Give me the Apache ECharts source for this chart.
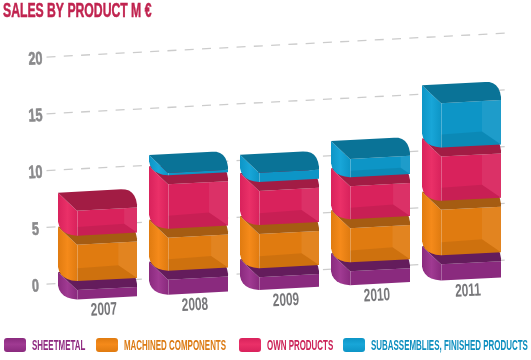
<!DOCTYPE html>
<html><head><meta charset="utf-8">
<style>html,body{margin:0;padding:0;background:#fff}#c{width:531px;height:360px}</style>
<script src="https://cdn.jsdelivr.net/npm/echarts@6/dist/echarts.min.js"></script>
</head><body><div id="c"></div>
<script>
const years = ['2007','2008','2009','2010','2011'];
const yTicks = [0,5,10,15,20];
const sheetmetal = [1.0,1.5,1.3,1.4,1.6];
const machined = [4.0,3.7,3.8,3.8,4.8];
const own = [3.0,4.7,3.8,3.7,4.7];
const subassemblies = [0,1.0,1.6,2.4,4.7];
const seriesNames = ['SHEETMETAL','MACHINED COMPONENTS','OWN PRODUCTS','SUBASSEMBLIES, FINISHED PRODUCTS'];
const seriesValues = [sheetmetal,machined,own,subassemblies];
const palettes = [
 {front:'#8a2a7e',light:'#a03a92',top:'#641c5c',text:'#8f2a80'},
 {front:'#e07b10',light:'#f58a1a',top:'#a55c12',text:'#dc7a12'},
 {front:'#d9225c',light:'#ea3068',top:'#a21c44',text:'#cc2257'},
 {front:'#0d95c6',light:'#18a6d8',top:'#0a7397',text:'#0d8fbf'}
];
const legendSwatchX = [4,96,239,343];
const TILT = 0.052, X0 = 47, LEFT = 39.5, DEPTH = 19, W = 60;
const font = '"Liberation Sans",sans-serif';

function bez(p0,c,p1,n){const r=[];for(let i=1;i<=n;i++){const t=i/n,u=1-t;r.push([u*u*p0[0]+2*u*t*c[0]+t*t*p1[0],u*u*p0[1]+2*u*t*c[1]+t*t*p1[1]]);}return r;}

function tilted(api,i,v,dx){
  const p = api.coord([i,v]);
  const x = p[0]+dx;
  return [x, p[1]-TILT*(x-X0)];
}

function boxRender(sIdx){
  const pal = palettes[sIdx];
  return function(params,api){
    const i = api.value(0), v0 = api.value(1), v1 = api.value(2);
    if(v1<=v0) return {type:'group',children:[]};
    const shift = sIdx===0 ? 7 : 0;
    const T = dx=>tilted(api,i,v1,dx), B = dx=>tilted(api,i,v0,dx);
    const xb = -LEFT, xf = xb+DEPTH, xr = xf+W;
    const bl = T(xb), fl = T(xf), fr = T(xr);
    fl[1]+=DEPTH; fr[1]+=DEPTH;
    const brStart = T(xb+63);
    const brEnd = [fr[0],fr[1]-3];
    const ctrl = [fr[0]-2,brStart[1]-1];
    const topPoly = [bl,brStart,...bez(brStart,ctrl,brEnd,6),fr,fl];
    const bf = B(xf), br = B(xr), bb = B(xb);
    bf[1]+=10+shift; br[1]+=10+shift; bb[1]+=-5+shift;
    const leftPoly=[bl,fl,bf,...bez(bf,[bb[0]+2,bb[1]+13],bb,6)];
    const h = bf[1]-fl[1];
    const fd = Math.min(13,h*0.35);
    const wx = DEPTH*Math.min(1,fd/13);
    const floorPoly=[bf,[bf[0],bf[1]-fd],[br[0]-wx,br[1]-fd],br];
    const wallPoly=[[fr[0]-wx,fr[1]],fr,br,[br[0]-wx,br[1]-fd]];
    const strip=[fl,[fl[0]+1,fl[1]],[bf[0]+1,bf[1]],bf];
    const shape=(pts,fill,op)=>({type:'polygon',shape:{points:pts},style:{fill:fill,opacity:op==null?1:op}});
    const kids=[
      shape(leftPoly,{type:'linear',x:0,y:0,x2:1,y2:0,colorStops:[{offset:0,color:pal.front},{offset:.5,color:pal.light},{offset:1,color:pal.front}]}),
      shape([fl,fr,br,bf],pal.front)
    ];
    if(h>=18) kids.push(shape(wallPoly,'#ffffff',.07),shape(floorPoly,'#000000',.08));
    kids.push(shape(topPoly,pal.top),shape(strip,'#ffffff',.28));
    return {type:'group',children:kids};
  };
}

const stacks = seriesValues.map((vals,s)=>vals.map((v,i)=>{
  let base=0; for(let k=0;k<s;k++) base+=seriesValues[k][i];
  return [i,base,base+v];
}));

const boxSeries = seriesNames.map((name,s)=>({
  name:name,type:'custom',coordinateSystem:'cartesian2d',clip:false,z:3+s,
  encode:{x:0,y:[1,2]},
  renderItem:boxRender(s),
  data:stacks[s]
}));

const gridSeries = {
  type:'custom',coordinateSystem:'cartesian2d',clip:false,z:1,silent:true,
  encode:{x:0,y:1},
  renderItem:(params,api)=>{
    const v=api.value(1);
    const a=tilted(api,0,v,-51), b=tilted(api,4,v,47);
    const lbl=api.coord([0,v]);
    return {type:'group',children:[
      {type:'line',shape:{x1:a[0],y1:a[1],x2:b[0],y2:b[1]},style:{stroke:'#cccccc',lineWidth:1.3,lineDash:[9,8.3]}},
      {type:'text',x:35.5,y:lbl[1]+2.5,rotation:TILT,scaleX:.7,
       style:{text:String(v),fontFamily:font,fontWeight:'bold',fontSize:18,fill:'#8a8a8c',stroke:'#8a8a8c',lineWidth:.6,align:'center',verticalAlign:'middle'}}
    ]};
  },
  data:yTicks.map(v=>[0,v])
};

const yearSeries = {
  type:'custom',coordinateSystem:'cartesian2d',clip:false,z:8,silent:true,
  encode:{x:0,y:1},
  renderItem:(params,api)=>{
    const i=api.value(0);
    const p=tilted(api,i,0,6.5);
    return {type:'text',x:p[0],y:p[1]+29,rotation:TILT,scaleX:.66,
      style:{text:years[i],fontFamily:font,fontWeight:'bold',fontSize:18,fill:'#77777a',align:'center',verticalAlign:'middle'}};
  },
  data:years.map((y,i)=>[i,0])
};

const legendGraphics = [];
seriesNames.forEach((n,s)=>{
  const x=legendSwatchX[s];
  legendGraphics.push({type:'rect',x:x,y:338,shape:{width:22,height:14,r:3},
    style:{fill:{type:'linear',x:0,y:0,x2:0,y2:1,colorStops:[{offset:0,color:palettes[s].front},{offset:.45,color:palettes[s].light},{offset:1,color:palettes[s].front}]}}});
  legendGraphics.push({type:'text',x:x+28,y:345.5,scaleX:.53,
    style:{text:n,fontFamily:font,fontWeight:'bold',fontSize:15,fill:palettes[s].text,align:'left',verticalAlign:'middle'}});
});

const chart = echarts.init(document.getElementById('c'),null,{renderer:'canvas'});
chart.setOption({
  animation:false,backgroundColor:'#fff',
  grid:{left:52,right:24,top:57,bottom:76},
  xAxis:{type:'category',data:years,axisLine:{show:false},axisTick:{show:false},axisLabel:{show:false},splitLine:{show:false}},
  yAxis:{type:'value',min:0,max:20,interval:5,axisLine:{show:false},axisTick:{show:false},splitLine:{show:false},axisLabel:{show:false}},
  graphic:[
    {type:'text',x:3,y:11.5,scaleX:.61,style:{text:'SALES BY PRODUCT M €',fontFamily:font,fontWeight:'bold',fontSize:20,fill:'#c0234f',stroke:'#c0234f',lineWidth:.5,align:'left',verticalAlign:'middle'}},
    ...legendGraphics
  ],
  series:[gridSeries,...boxSeries,yearSeries]
});
</script></body></html>
